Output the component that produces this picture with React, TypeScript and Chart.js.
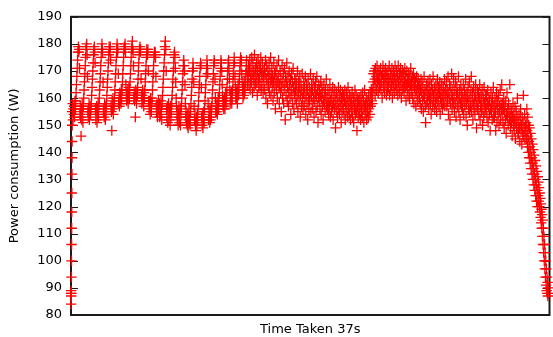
import React, { useEffect, useRef } from "react";
import { Chart, registerables } from "chart.js";

Chart.register(...registerables);

// Power samples (W), one array per phase of the run.
const startup = [88, 84, 89, 87, 88, 94, 100, 106, 112, 118, 125, 132, 138, 144, 150];

const burstEarly = [
  155, 158, 152, 156, 154, 157, 153, 159, 156, 159, 162, 165, 168, 171, 174, 177, 179, 177, 178, 171, 154,
  157, 153, 146, 156, 152, 158, 155, 151, 157, 160, 163, 166, 169, 172, 175, 178, 179, 180, 176, 168, 155,
  153, 156, 158, 152, 155, 157, 154, 156, 158, 161, 164, 167, 170, 173, 176, 178, 179, 177, 173, 156,
  152, 155, 157, 151, 156, 154, 158, 153, 157, 160, 163, 166, 169, 172, 175, 178, 180, 178, 177, 166, 155,
  156, 153, 158, 155, 152, 157, 154, 158, 161, 164, 167, 170, 173, 176, 179, 178, 177, 179, 174, 157,
  155, 148, 159, 156, 160, 154, 158, 157, 160, 163, 166, 169, 172, 175, 178, 180, 177, 178, 169, 158,
  160, 157, 162, 159, 161, 158, 163, 160, 163, 166, 169, 172, 175, 178, 179, 178, 180, 177, 165, 161,
  159, 162, 160, 163, 158, 161, 164, 160, 163, 166, 169, 172, 175, 178, 179, 181, 178, 177, 172, 160,
  162, 159, 161, 153, 163, 160, 158, 162, 161, 164, 167, 170, 173, 176, 178, 179, 177, 178, 167, 161,
  158, 161, 163, 159, 160, 157, 162, 160, 163, 166, 169, 172, 175, 178, 177, 176, 178, 170, 159,
  156, 159, 157, 154, 160, 158, 155, 158, 160, 163, 166, 169, 172, 175, 177, 176, 177, 175, 168, 157,
  155, 158, 153, 157, 156, 159,
];

const burstLate = [
  155, 158, 153, 157, 154, 159, 156, 152, 158, 161, 164, 167, 170, 173, 176, 179, 181, 178, 170,
  156, 153, 157, 151, 155, 158, 152, 156, 154, 150, 157, 153, 155, 158, 161, 164, 167, 170, 173, 176, 177, 175, 171, 166, 160, 157, 154,
  152, 155, 150, 154, 157, 151, 153, 156, 150, 154, 157, 160, 163, 166, 169, 172, 174, 172, 170, 165, 158, 153, 155, 151,
  153, 150, 154, 149, 152, 156, 151, 153, 150, 155, 158, 161, 164, 167, 170, 173, 171, 166, 157, 152, 154, 150,
  151, 148, 153, 150, 154, 152, 156, 159, 162, 165, 168, 171, 173, 172, 164, 153,
  150, 154, 149, 152, 155, 151, 156, 159, 162, 165, 168, 171, 174, 172, 169, 158, 152, 155,
  153, 151, 156, 152, 155, 153, 157, 160, 163, 166, 169, 172, 174, 173, 167, 160, 155, 157,
  155, 158, 154, 157, 160, 156, 159, 162, 165, 168, 171, 174, 173, 170, 165, 161, 157, 159, 156,
  157, 160, 156, 159, 162, 158, 161, 164, 167, 170, 173, 174, 171, 167, 163, 158, 161,
  159, 162, 158, 160, 163, 166, 169, 172, 175, 173, 168, 164, 160, 162,
  160, 163, 158, 162, 165, 161, 164, 167, 170, 173, 175, 172, 174, 169, 166, 163, 160, 164, 161, 166, 162,
  163, 166, 169, 172, 174, 170, 165, 168,
];

const plateau = [
  168, 172, 165, 170, 174, 163, 167, 171, 166, 175, 169, 162, 173, 167, 170, 164, 176, 168, 171, 165,
  169, 173, 166, 161, 170, 174, 167, 164, 172, 168, 165, 171, 175, 163, 169, 166, 173, 170, 162, 168,
  166, 171, 163, 169, 174, 160, 167, 172, 165, 158, 170, 168, 164, 173, 162, 169, 166, 175, 161, 167,
  171, 164, 168, 159, 166, 173, 162, 169, 165, 156, 170, 167, 163, 172, 160, 166, 168, 174, 164, 158,
  165, 170, 162, 167, 155, 164, 172, 160, 166, 169, 158, 163, 171, 165, 152, 168, 161, 166, 173, 159,
  164, 168, 157, 162, 170, 165, 160, 167, 154, 163, 169, 161, 166, 158, 171, 164, 156, 162, 167, 160,
  163, 167, 158, 165, 161, 170, 155, 162, 166, 159, 164, 168, 153, 161, 165, 157, 163, 169, 160, 156,
  162, 166, 157, 164, 160, 168, 154, 161, 165, 158, 163, 152, 167, 160, 156, 164, 159, 162, 169, 155,
  161, 165, 158, 163, 156, 167, 160, 153, 164, 159, 162, 166, 155, 161, 168, 157, 163, 151, 160, 165,
  159, 163, 156, 161, 166, 154, 160, 164, 157, 162, 152, 159, 165, 158, 161, 155, 163, 160, 167, 157,
];

const dip = [
  160, 156, 163, 158, 154, 161, 157, 165, 153, 159, 162, 155, 160, 157, 164, 152, 158, 161, 156, 163,
  159, 149, 157, 162, 155, 160, 153, 158, 164, 156, 161, 154, 159, 163, 157, 151, 160, 155, 162, 158,
  156, 161, 154, 159, 163, 152, 158, 155, 162, 157, 160, 153, 164, 156, 159, 154, 161, 157, 152, 160,
  158, 155, 162, 153, 157, 160, 151, 159, 156, 163, 154, 158, 161, 155, 148, 157, 160, 153, 159, 156,
  154, 160, 157, 152, 161, 155, 158, 153, 162, 156, 159, 151, 157, 163, 154, 158, 155, 160, 152, 157,
  155, 159, 153, 161, 156, 158, 154, 162, 157, 160, 163, 159,
];

const stepUp = [
  158, 162, 166, 169, 164, 170, 167, 161, 171, 165, 168, 163, 172, 166, 169, 162, 167, 170, 164, 168,
  165, 171, 163, 168, 166, 160, 169, 172, 164, 167, 170, 162, 166, 168, 171, 165, 161, 169, 167, 163,
  170, 164, 167, 172, 161, 166, 169, 163, 168, 165, 171, 160, 167, 164, 170, 166, 162, 168, 172, 165,
  167, 163, 170, 165, 168, 161, 172, 166, 164, 169, 162, 167, 171, 165, 160, 168, 163, 170, 166, 164,
  169, 162, 166, 171, 164, 168, 159, 165, 170, 163, 167, 161, 166, 169, 164, 160, 168, 165, 171, 162,
  166, 163, 168, 160, 165, 169, 158, 164, 167, 162, 166, 157, 163, 168, 161, 165, 159, 167, 164, 162,
  160, 165, 158, 163, 167, 156, 162, 166, 159, 164, 155, 161, 168, 160, 163, 157, 151, 162, 165, 158,
  163, 159, 166, 161, 156, 164, 160, 167, 158, 162, 154, 165, 160, 163, 157, 168, 161, 159, 164, 156,
  162, 158, 165, 160, 155, 163, 167, 159, 161, 164, 157, 162, 166, 154, 160, 163, 158, 165, 161, 156,
  160, 164, 158, 162, 167, 157, 161, 163,
];

const decline = [
  161, 166, 157, 163, 159, 168, 154, 162, 160, 165, 152, 158, 164, 161, 169, 156, 160, 163, 158, 167,
  160, 155, 163, 158, 166, 153, 161, 164, 157, 162, 159, 168, 155, 160, 163, 152, 158, 165, 161, 157,
  162, 156, 160, 165, 154, 159, 163, 157, 161, 167, 153, 158, 162, 150, 160, 164, 156, 159, 166, 155,
  161, 157, 163, 168, 155, 159, 162, 152, 158, 164, 156, 160, 154, 161, 165, 157, 149, 159, 163, 156,
  158, 162, 154, 160, 165, 152, 157, 161, 155, 159, 163, 150, 156, 160, 153, 164, 158, 155, 161, 157,
  156, 161, 153, 158, 163, 151, 157, 160, 154, 159, 148, 156, 162, 155, 158, 152, 160, 157, 164, 153,
  157, 153, 160, 155, 148, 158, 162, 151, 156, 159, 154, 161, 150, 157, 155, 163, 152, 158, 156, 165,
  154, 158, 151, 156, 160, 149, 155, 157, 152, 159, 147, 154, 162, 153, 156, 150, 158, 155, 152, 165,
  153, 149, 156, 151, 155, 146, 153, 158, 150, 154, 148, 152, 157, 145, 151, 155, 149, 153, 160, 147,
  151, 147, 154, 149, 144, 152, 156, 148, 150, 143, 153, 147, 151, 161, 146, 149, 154, 145, 150, 148,
];

const falloff = [
  151, 145, 156, 148, 142, 153, 146, 140, 150, 144,
  138, 149, 142, 136, 147, 140, 134, 145, 138, 132,
  143, 136, 130, 141, 134, 128, 139, 132, 126, 137,
  130, 124, 135, 128, 122, 133, 126, 120, 131, 124,
  129, 122, 127, 120, 125, 118, 123, 116, 121, 114,
  119, 112, 117, 109, 115, 106, 112, 103, 109, 100,
  106, 97, 103, 94, 100, 91, 97, 89, 94, 88, 92, 87, 90, 88,
];

// Phase boundaries in seconds; samples are evenly spaced within each phase.
const phaseBounds = [0, 0.1, 6.8, 13.7, 19.8, 23.3, 29.0, 35.2, 36.95];
const phases = [startup, burstEarly, burstLate, plateau, dip, stepUp, decline, falloff];

const DURATION = 37;
const yTicks = { min: 80, max: 190, step: 10 };

function buildPoints() {
  const pts: { x: number; y: number }[] = [];
  phases.forEach((values, p) => {
    const t0 = phaseBounds[p];
    const t1 = phaseBounds[p + 1];
    const dt = (t1 - t0) / values.length;
    values.forEach((v, i) => pts.push({ x: t0 + i * dt, y: v }));
  });
  return pts;
}

const FONT = "'DejaVu Sans', sans-serif";

const framePlugin = {
  id: "frame",
  beforeDatasetsDraw(chart: any) {
    const { ctx, chartArea, scales } = chart;
    const { left, right, top, bottom } = chartArea;
    const y = scales.y;
    ctx.save();
    ctx.strokeStyle = "#1a1a1a";
    ctx.lineWidth = 2;
    ctx.strokeRect(left, top, right - left, bottom - top);
    ctx.lineWidth = 1.2;
    ctx.beginPath();
    for (const tick of y.ticks) {
      const py = Math.round(y.getPixelForValue(tick.value)) + 0.5;
      ctx.moveTo(left, py);
      ctx.lineTo(left + 7, py);
      ctx.moveTo(right - 7, py);
      ctx.lineTo(right, py);
    }
    ctx.stroke();
    ctx.restore();
  },
};

export default function App() {
  const canvasRef = useRef<HTMLCanvasElement | null>(null);

  useEffect(() => {
    const canvas = canvasRef.current;
    if (!canvas) return;
    const chart = new Chart(canvas, {
      type: "scatter",
      data: {
        datasets: [
          {
            data: buildPoints(),
            pointStyle: "cross",
            pointRadius: 5.2,
            pointBorderWidth: 1.3,
            pointBorderColor: "#ff0000",
            pointBackgroundColor: "#ff0000",
            borderColor: "#ff0000",
            showLine: false,
            clip: false,
          } as any,
        ],
      },
      options: {
        animation: false,
        responsive: false,
        events: [],
        layout: { padding: { top: 11, right: 2, bottom: 0, left: 0 } },
        plugins: { legend: { display: false }, tooltip: { enabled: false } },
        scales: {
          x: {
            type: "linear",
            min: 0,
            max: DURATION,
            grid: { display: false, drawTicks: false },
            border: { display: false },
            ticks: { display: false },
            title: {
              display: true,
              text: "Time Taken 37s",
              color: "#000",
              font: { family: FONT, size: 13 },
              padding: { top: 0, bottom: 0 },
            },
            afterFit: (s: any) => {
              s.height = 22;
            },
          },
          y: {
            min: yTicks.min,
            max: yTicks.max,
            grid: { display: false, drawTicks: false },
            border: { display: false },
            ticks: {
              stepSize: yTicks.step,
              color: "#000",
              font: { family: FONT, size: 13 },
              padding: 9,
            },
            title: {
              display: true,
              text: "Power consumption (W)",
              color: "#000",
              font: { family: FONT, size: 13 },
              padding: { top: 7, bottom: 0 },
            },
            afterFit: (s: any) => {
              s.width = 71;
            },
          },
        },
      },
      plugins: [framePlugin],
    });
    return () => chart.destroy();
  }, []);

  return (
    <div
      style={{
        position: "absolute",
        left: 0,
        top: 0,
        width: 553,
        height: 337,
        overflow: "hidden",
        background: "#fff",
      }}
    >
      <canvas
        ref={canvasRef}
        width={556}
        height={337}
        style={{ display: "block", width: 556, height: 337 }}
      />
    </div>
  );
}
